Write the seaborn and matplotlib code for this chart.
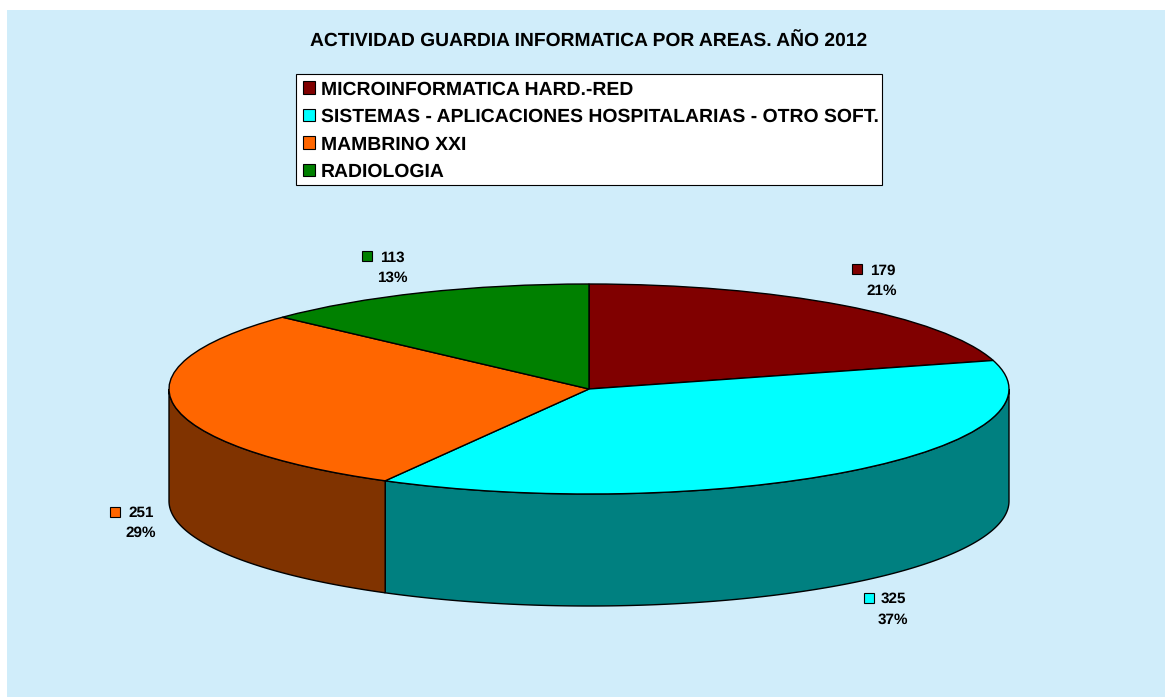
import numpy as np
import matplotlib
matplotlib.use("Agg")
import matplotlib.pyplot as plt
from matplotlib.patches import Patch, Rectangle
from matplotlib.transforms import Affine2D
import seaborn as sns

title = "ACTIVIDAD GUARDIA INFORMATICA POR AREAS. AÑO 2012"
categories = ["MICROINFORMATICA HARD.-RED",
              "SISTEMAS - APLICACIONES HOSPITALARIAS - OTRO SOFT.",
              "MAMBRINO XXI",
              "RADIOLOGIA"]
values = [179, 325, 251, 113]
top_colors = ["#800000", "#00FFFF", "#FF6600", "#008000"]
side_colors = ["#400000", "#008080", "#803300", "#004000"]

sns.set_theme(style="white")
plt.rcParams["font.family"] = ["Liberation Sans", "DejaVu Sans"]
plt.rcParams["font.weight"] = "bold"
plt.rcParams["text.hinting"] = "none"

W, H = 1165, 697
CX, CY, RX, RY, DEPTH = 589, 389, 420, 105, 112
fig = plt.figure(figsize=(W / 100, H / 100), dpi=100, facecolor="white")
px = Affine2D().scale(1, -1).translate(0, H)  # figure pixels, y from the top
fig.add_artist(Rectangle((7, 10), W - 7, H - 10, transform=px, facecolor="#D0EDFA",
                         edgecolor="none", zorder=-5))
fig.add_artist(Rectangle((296, 74), 586, 111, transform=px, facecolor="white",
                         edgecolor="black", linewidth=0.8, zorder=-1))

ax = fig.add_axes([0, 0, 1, 1], zorder=1)
ax.patch.set_alpha(0)
total = sum(values)
edges = np.cumsum([0] + values) / total * 360
d = DEPTH / RY

# front wall of the disc, from the same angles as the slices
for i, col in enumerate(side_colors):
    a0, a1 = max(edges[i], 90), min(edges[i + 1], 270)
    if a1 <= a0:
        continue
    t = np.radians(np.linspace(a0, a1, 200))
    x, y = np.sin(t), np.cos(t)
    ax.fill(np.r_[x, x[::-1]], np.r_[y, y[::-1] - d], facecolor=col, edgecolor="black", linewidth=1, zorder=1)

wedges, _ = ax.pie(values, colors=top_colors, startangle=90, counterclock=False, radius=1,
                   wedgeprops=dict(edgecolor="black", linewidth=1), normalize=True)
for p in wedges:
    p.set_zorder(2)
ax.set_aspect("auto")
ax.set_xlim(-CX / RX, (W - CX) / RX)
ax.set_ylim(-(H - CY) / RY, CY / RY)
ax.axis("off")

fig.text(589, 42, title, transform=px, ha="center", va="center", fontsize=13.9, fontweight="bold", color="black", zorder=5)

# legend
handles = [Patch(facecolor=c, edgecolor="black", linewidth=0.8) for c in top_colors]
leg = ax.legend(handles, categories, loc="upper left", bbox_to_anchor=(297, 75),
                bbox_transform=px, frameon=False,
                labelcolor="black",
                handlelength=0.62, handleheight=0.62, handletextpad=0.3,
                labelspacing=0.5, borderpad=0.3, borderaxespad=0,
                prop=dict(family="Liberation Sans", weight="bold", size=13.95))

# data labels: value with key on the first line, percentage below
label_px = [(870, 271), (881, 599), (128, 513), (380, 258)]
key_px = [(852, 264), (864, 593), (110, 507), (362, 251)]
pct_px = [(882, 291), (893, 620), (141, 533), (392, 278)]
for v, c, lp, kp, pp in zip(values, top_colors, label_px, key_px, pct_px):
    fig.text(lp[0], lp[1], f"{v}", transform=px, ha="left", va="center", fontsize=11, fontweight="bold", color="black", zorder=5)
    fig.text(pp[0], pp[1], f"{v / total:.0%}", transform=px, ha="center", va="center", fontsize=11, fontweight="bold", color="black", zorder=5)
    fig.add_artist(Rectangle(kp, 10, 10, transform=px, facecolor=c, edgecolor="black", linewidth=0.8, zorder=5))

fig.savefig("out.png", dpi=100, facecolor=fig.get_facecolor())
